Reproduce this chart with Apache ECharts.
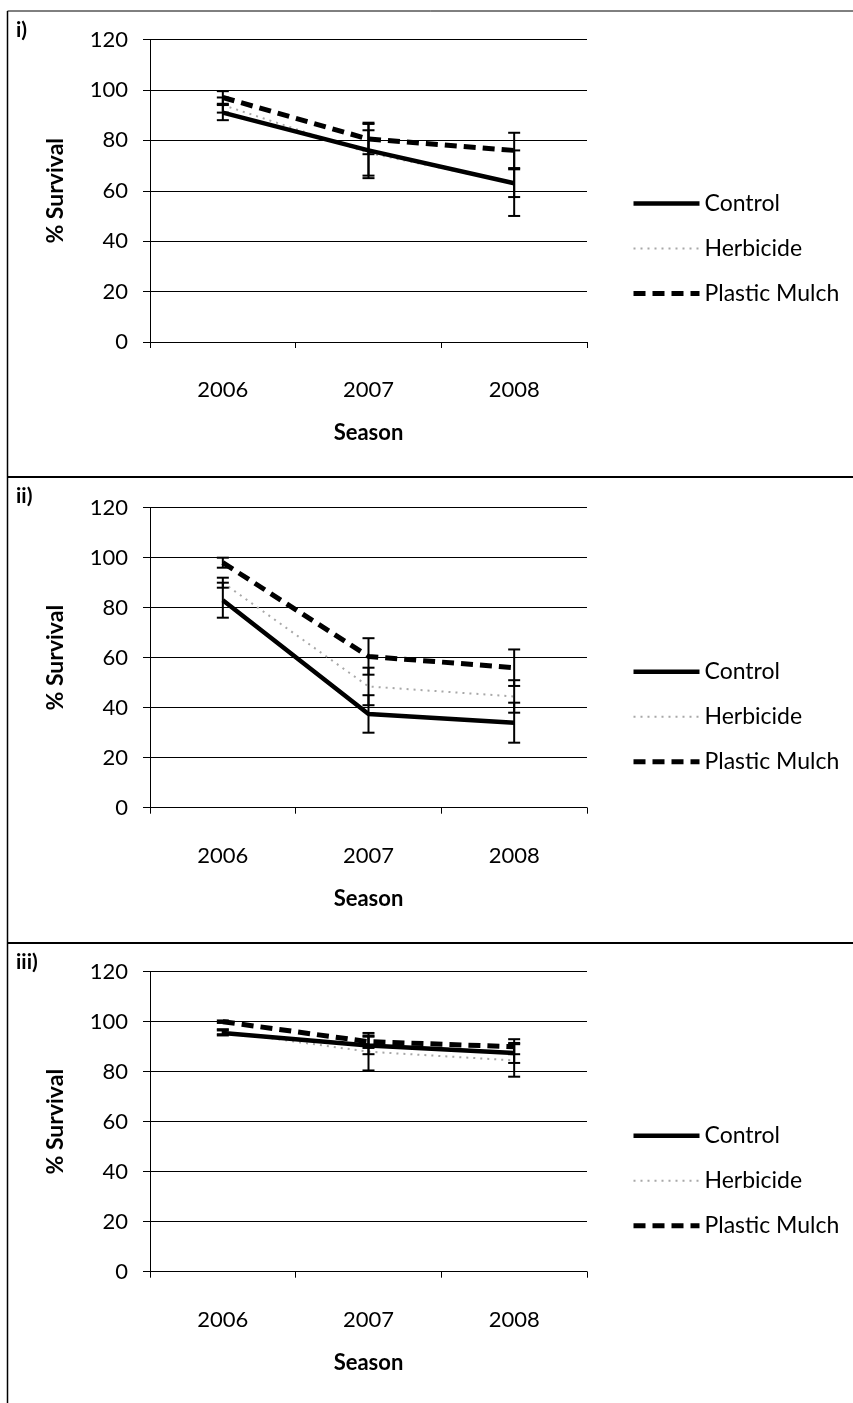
<!DOCTYPE html>
<html>
<head>
<meta charset="utf-8">
<script src="https://cdn.jsdelivr.net/npm/echarts@6/dist/echarts.min.js"></script>
<style>
html,body{margin:0;padding:0;background:#fff;}
#chart{width:853px;height:1403px;}
</style>
</head>
<body>
<div id="chart"></div>
<script>
// ---- data ----
const seasons = ['2006', '2007', '2008'];
const seriesNames = ['Control', 'Herbicide', 'Plastic Mulch'];
const panelLabels = ['i)', 'ii)', 'iii)'];

// Panel i
const controlI = [91, 76, 63];
const controlErrI = [3, 11, 13];
const herbicideI = [94, 75, 63];
const herbicideErrI = [3, 9, 5.5];
const mulchI = [97, 80.5, 76];
const mulchErrI = [2.5, 6, 7];

// Panel ii
const controlII = [83, 37.5, 34];
const controlErrII = [7, 7.5, 8];
const herbicideII = [90, 48.5, 44.5];
const herbicideErrII = [2, 7.5, 6.5];
const mulchII = [98, 60.5, 56];
const mulchErrII = [2, 7.3, 7.3];

// Panel iii
const controlIII = [95.5, 90.5, 87.5];
const controlErrIII = [1, 3.5, 4];
const herbicideIII = [96, 88, 84.5];
const herbicideErrIII = [1, 7.5, 6.5];
const mulchIII = [100, 92, 90];
const mulchErrIII = [0.5, 2.5, 3];

const yMin = 0, yMax = 120, yStep = 20;

// ---- layout / style ----
const FONT = 'Lato';
const panels = [
  { top: 39.5, height: 302.5, vals: [controlI, herbicideI, mulchI], errs: [controlErrI, herbicideErrI, mulchErrI], line: 11 },
  { top: 507.7, height: 300, vals: [controlII, herbicideII, mulchII], errs: [controlErrII, herbicideErrII, mulchErrII], line: 477 },
  { top: 971.7, height: 300, vals: [controlIII, herbicideIII, mulchIII], errs: [controlErrIII, herbicideErrIII, mulchErrIII], line: 943 }
];
const lineStyles = [
  { color: '#000', width: 4.5, type: 'solid' },
  { color: '#a8a8a8', width: 2, type: [2, 5] },
  { color: '#000', width: 5, type: [12, 7] }
];

const grids = [], xAxes = [], yAxes = [], series = [], legends = [], graphics = [];

panels.forEach((p, pi) => {
  grids.push({ left: 150, right: 266, top: p.top, height: p.height, containLabel: false });
  xAxes.push({
    type: 'category', gridIndex: pi, data: seasons, boundaryGap: true,
    axisLine: { show: true, lineStyle: { color: '#000', width: 1 } },
    axisTick: { show: true, length: 6, alignWithLabel: false, lineStyle: { color: '#000' } },
    axisLabel: { color: '#000', fontSize: 22, fontFamily: FONT, margin: 37 },
    name: 'Season', nameLocation: 'middle', nameGap: 80,
    nameTextStyle: { color: '#000', fontSize: 22, fontWeight: 'bold', fontFamily: FONT }
  });
  yAxes.push({
    type: 'value', gridIndex: pi, min: yMin, max: yMax, interval: yStep,
    axisLine: { show: true, lineStyle: { color: '#000', width: 1 } },
    axisTick: { show: true, length: 7, lineStyle: { color: '#000' } },
    splitLine: { show: true, lineStyle: { color: '#000', width: 1 } },
    axisLabel: { color: '#000', fontSize: 22, fontFamily: FONT, margin: 22 },
    name: '% Survival', nameLocation: 'middle', nameGap: 83,
    nameTextStyle: { color: '#000', fontSize: 23, fontWeight: 'bold', fontFamily: FONT }
  });
  seriesNames.forEach((nm, si) => {
    series.push({
      name: nm, type: 'line', xAxisIndex: pi, yAxisIndex: pi,
      data: p.vals[si], showSymbol: false, symbol: 'none', z: 2 + (si === 1 ? 0 : 1),
      lineStyle: Object.assign({}, lineStyles[si]),
      itemStyle: { color: lineStyles[si].color },
      animation: false
    });
  });
  // error bars
  const errData = [];
  seriesNames.forEach((nm, si) => {
    p.vals[si].forEach((v, i) => {
      errData.push([i, v - p.errs[si][i], v + p.errs[si][i]]);
    });
  });
  series.push({
    type: 'custom', xAxisIndex: pi, yAxisIndex: pi, z: 5, animation: false,
    data: errData, silent: true,
    renderItem: function (params, api) {
      const i = api.value(0);
      const lo = api.coord([i, api.value(1)]);
      const hi = api.coord([i, api.value(2)]);
      const cw = 6;
      const st = { stroke: '#000', lineWidth: 2 };
      return {
        type: 'group', children: [
          { type: 'line', shape: { x1: lo[0], y1: lo[1], x2: hi[0], y2: hi[1] }, style: st },
          { type: 'line', shape: { x1: lo[0] - cw, y1: lo[1], x2: lo[0] + cw, y2: lo[1] }, style: st },
          { type: 'line', shape: { x1: hi[0] - cw, y1: hi[1], x2: hi[0] + cw, y2: hi[1] }, style: st }
        ]
      };
    }
  });
  legends.push({
    orient: 'vertical', left: 626, top: p.top + 147, itemWidth: 66, itemHeight: 24, itemGap: 21,
    selectedMode: false,
    data: seriesNames.map((nm, si) => ({
      name: nm,
      itemStyle: { opacity: 0 },
      lineStyle: { color: lineStyles[si].color, width: lineStyles[si].width, type: lineStyles[si].type, opacity: 1 }
    })),
    textStyle: { color: '#000', fontSize: 23, fontFamily: FONT, lineHeight: 24 }
  });
  // panel separator / frame line
  graphics.push({ type: 'line', shape: { x1: 7.5, y1: p.line, x2: 853, y2: p.line }, style: { stroke: '#000', lineWidth: pi === 0 ? 1 : 2 } });
  graphics.push({ type: 'text', left: 16, top: p.line + 9, style: { text: panelLabels[pi], fill: '#000', font: 'bold 21px ' + FONT } });
});
graphics.push({ type: 'line', shape: { x1: 7.5, y1: 11, x2: 7.5, y2: 1403 }, style: { stroke: '#000', lineWidth: 1.5 } });

const chart = echarts.init(document.getElementById('chart'), null, { renderer: 'canvas' });
chart.setOption({
  backgroundColor: '#fff',
  animation: false,
  textStyle: { fontFamily: FONT },
  grid: grids, xAxis: xAxes, yAxis: yAxes, legend: legends,
  series: series, graphic: graphics
});
</script>
</body>
</html>
